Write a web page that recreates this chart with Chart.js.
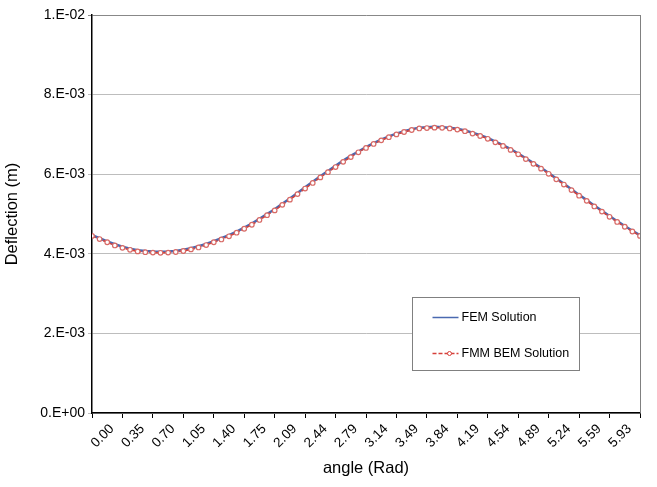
<!DOCTYPE html>
<html>
<head>
<meta charset="utf-8">
<script src="https://cdn.jsdelivr.net/npm/chart.js@4.4.1/dist/chart.umd.min.js"></script>
<style>
	html, body { margin: 0; padding: 0; background: #fff; }
</style>
</head>
<body>
<canvas id="myChart" width="657" height="487"></canvas>
<script>
// angle in rad, every 5 degrees
const angles = [
	0, 0.0873, 0.1745, 0.2618, 0.3491, 0.4363, 0.5236, 0.6109, 0.6981, 0.7854,
	0.8727, 0.9599, 1.0472, 1.1345, 1.2217, 1.309, 1.3963, 1.4835, 1.5708, 1.6581,
	1.7453, 1.8326, 1.9199, 2.0071, 2.0944, 2.1817, 2.2689, 2.3562, 2.4435, 2.5307,
	2.618, 2.7053, 2.7925, 2.8798, 2.9671, 3.0543, 3.1416, 3.2289, 3.3161, 3.4034,
	3.4907, 3.5779, 3.6652, 3.7525, 3.8397, 3.927, 4.0143, 4.1015, 4.1888, 4.2761,
	4.3633, 4.4506, 4.5379, 4.6251, 4.7124, 4.7997, 4.8869, 4.9742, 5.0615, 5.1487,
	5.236, 5.3233, 5.4105, 5.4978, 5.5851, 5.6723, 5.7596, 5.8469, 5.9341, 6.0214,
	6.1087, 6.1959, 6.2832
];

// deflection in 1E-03 m
const femDeflection = [
	4.47, 4.39, 4.31, 4.24, 4.18, 4.13, 4.09, 4.07, 4.055, 4.05,
	4.055, 4.07, 4.10, 4.14, 4.19, 4.25, 4.32, 4.39, 4.47, 4.56,
	4.66, 4.76, 4.88, 5.00, 5.12, 5.26, 5.39, 5.53, 5.67, 5.81,
	5.95, 6.08, 6.21, 6.34, 6.46, 6.57, 6.68, 6.78, 6.87, 6.95,
	7.02, 7.08, 7.13, 7.17, 7.18, 7.19, 7.18, 7.17, 7.14, 7.10,
	7.04, 6.98, 6.91, 6.82, 6.73, 6.63, 6.52, 6.40, 6.28, 6.16,
	6.03, 5.89, 5.76, 5.62, 5.48, 5.35, 5.21, 5.08, 4.95, 4.82,
	4.70, 4.58, 4.47
];
const bemDeflection = [
	4.45, 4.37, 4.29, 4.21, 4.15, 4.10, 4.06, 4.04, 4.03, 4.025,
	4.03, 4.045, 4.07, 4.11, 4.16, 4.22, 4.29, 4.36, 4.44, 4.53,
	4.63, 4.73, 4.85, 4.97, 5.09, 5.23, 5.36, 5.50, 5.64, 5.78,
	5.92, 6.05, 6.18, 6.31, 6.43, 6.55, 6.66, 6.76, 6.85, 6.93,
	7.00, 7.06, 7.11, 7.15, 7.16, 7.17, 7.165, 7.15, 7.12, 7.08,
	7.02, 6.96, 6.89, 6.80, 6.71, 6.61, 6.50, 6.38, 6.26, 6.14,
	6.01, 5.87, 5.74, 5.60, 5.46, 5.33, 5.19, 5.06, 4.93, 4.80,
	4.68, 4.56, 4.45
];

const xTickLabels = ["0.00", "0.35", "0.70", "1.05", "1.40", "1.75", "2.09", "2.44", "2.79",
	"3.14", "3.49", "3.84", "4.19", "4.54", "4.89", "5.24", "5.59", "5.93", ""];
const yTickLabels = ["0.E+00", "2.E-03", "4.E-03", "6.E-03", "8.E-03", "1.E-02"];

const FONT = "'Liberation Sans', Arial, sans-serif";

// ticks every 20 degrees
const xTickValues = angles.filter((a, i) => i % 4 === 0);

function toPoints(vals) {
	return vals.map((v, i) => ({ x: angles[i], y: v * 1e-3 }));
}

// excel style frame + legend inside the plot
const excelBits = {
	id: "excelBits",
	afterDatasetsDraw(chart) {
		const ctx = chart.ctx;
		const a = chart.chartArea;
		ctx.save();
		ctx.strokeStyle = "#808080";
		ctx.lineWidth = 1;
		ctx.beginPath();
		ctx.moveTo(Math.round(a.right) + 0.5, a.top);
		ctx.lineTo(Math.round(a.right) + 0.5, a.bottom);
		ctx.stroke();

		const bx = 412.5, by = 297.5, bw = 167, bh = 73;
		ctx.fillStyle = "#fff";
		ctx.fillRect(bx, by, bw, bh);
		ctx.strokeRect(bx, by, bw, bh);
		ctx.font = "12.5px " + FONT;
		ctx.textBaseline = "middle";
		chart.data.datasets.forEach((ds, i) => {
			const y = Math.round(by + 19 + i * 36) + 0.5;
			ctx.strokeStyle = ds.borderColor;
			ctx.lineWidth = 1.5;
			ctx.setLineDash(ds.borderDash || []);
			ctx.beginPath();
			ctx.moveTo(bx + 20, y);
			ctx.lineTo(bx + 46, y);
			ctx.stroke();
			ctx.setLineDash([]);
			if (ds.pointRadius > 0) {
				ctx.beginPath();
				ctx.arc(bx + 37, y, 2, 0, Math.PI * 2);
				ctx.fillStyle = ds.pointBackgroundColor;
				ctx.fill();
				ctx.lineWidth = 1;
				ctx.stroke();
			}
			ctx.fillStyle = "#000";
			ctx.fillText(ds.label, bx + 49, y);
		});
		ctx.restore();
	},
};

window.addEventListener("load", setup);

function setup() {
	const ctx = document.getElementById("myChart").getContext("2d");
	const chart = new Chart(ctx, {
		type: "line",
		data: {
			datasets: [
				{
					label: "FEM Solution",
					data: toPoints(femDeflection),
					borderColor: "#4a69b0",
					borderWidth: 2.5,
					pointRadius: 0,
					fill: false,
					order: 1,
				},
				{
					label: "FMM BEM Solution",
					data: toPoints(bemDeflection),
					borderColor: "#d6403a",
					borderWidth: 1.5,
					borderDash: [4, 2],
					pointRadius: 2.3,
					pointBorderWidth: 1.2,
					pointBackgroundColor: "#fff",
					pointBorderColor: "#d86a66",
					fill: false,
					order: 0,
				},
			],
		},
		options: {
			responsive: false,
			animation: false,
			layout: { padding: { top: 15, right: 17, left: 0, bottom: 0 } },
			plugins: {
				legend: { display: false },
				tooltip: { enabled: false },
			},
			scales: {
				x: {
					type: "linear",
					min: 0,
					max: angles[angles.length - 1],
					afterBuildTicks: (axis) => {
						axis.ticks = xTickValues.map((v) => ({ value: v }));
					},
					afterFit: (scale) => {
						scale.height = 74;
					},
					border: { color: "#000", width: 1.5 },
					grid: { drawOnChartArea: false, drawTicks: true, tickLength: 5, color: "#000" },
					ticks: {
						autoSkip: false,
						maxRotation: 45,
						minRotation: 45,
						labelOffset: 20,
						padding: 3,
						color: "#000",
						font: { family: FONT, size: 13.5 },
						callback: (v, i) => xTickLabels[i],
					},
					title: {
						display: true,
						text: "angle (Rad)",
						color: "#000",
						font: { family: FONT, size: 16.5 },
						padding: { top: 0, bottom: 9 },
					},
				},
				y: {
					min: 0,
					max: 0.01,
					afterBuildTicks: (axis) => {
						axis.ticks = yTickLabels.map((t, i) => ({ value: i * 0.002 }));
					},
					afterFit: (scale) => {
						scale.width = 92;
					},
					border: { color: "#000", width: 1.5 },
					grid: {
						color: (c) => (c.index === yTickLabels.length - 1 ? "#888" : "#bdbdbd"),
						tickLength: 4,
						lineWidth: 1,
					},
					ticks: {
						padding: 3,
						color: "#000",
						font: { family: FONT, size: 14 },
						callback: (v, i) => yTickLabels[i],
					},
					title: {
						display: true,
						text: "Deflection (m)",
						color: "#000",
						font: { family: FONT, size: 16.5 },
						padding: { top: 3, bottom: 0 },
					},
				},
			},
		},
		plugins: [excelBits],
	});
}
</script>
</body>
</html>
